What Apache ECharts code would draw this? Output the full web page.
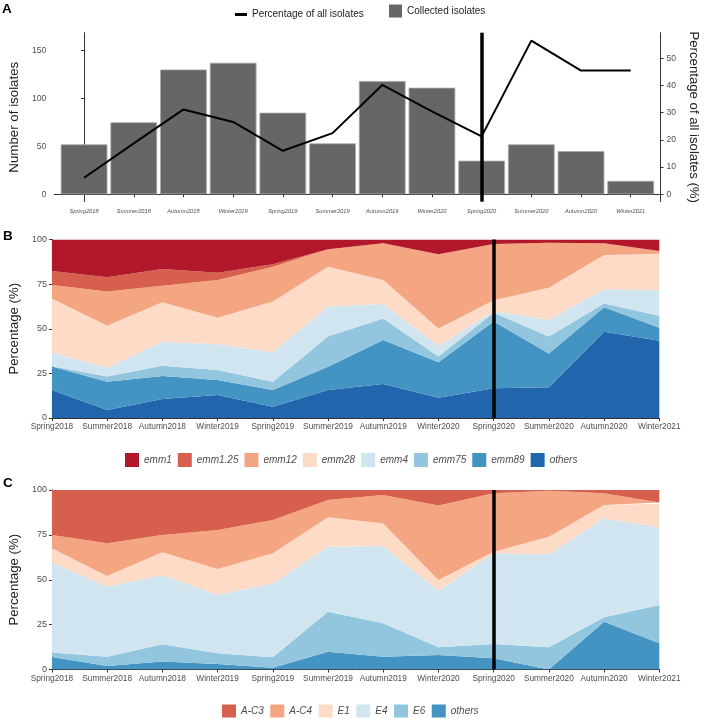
<!DOCTYPE html>
<html><head><meta charset="utf-8">
<script src="https://cdn.jsdelivr.net/npm/echarts@6/dist/echarts.min.js"></script>
<style>html,body{margin:0;padding:0;background:#fff}#c{width:708px;height:719px}</style>
</head><body><div id="c"></div>
<script>
// ---------- data ----------
const seasons = ['Spring2018','Summer2018','Autumn2018','Winter2019','Spring2019','Summer2019','Autumn2019','Winter2020','Spring2020','Summer2020','Autumn2020','Winter2021'];
const collectedIsolates = [52, 75, 130, 137, 85, 53, 118, 111, 35, 52, 45, 14];
const percentageOfAllIsolates = [6.1, 18.7, 31.2, 26.6, 16.0, 22.5, 40.2, 30.5, 21.3, 56.5, 45.5, 45.5];
const countTicks = [0, 50, 100, 150];
const pctTicks = [0, 10, 20, 30, 40, 50];
const splitSeason = 'Spring2020';

// panel B (emm types, % per season)
const emmNames = ['emm1','emm1.25','emm12','emm28','emm4','emm75','emm89','others'];
const emm1    = [17.6, 21.2, 16.5, 18.6, 13.9, 5.5, 2.1, 8.3, 2.5, 1.8, 2.1, 6.5];
const emm1_25 = [7.9, 8.0, 9.4, 4.1, 1.3, 0, 0, 0, 0, 0, 0, 0];
const emm12   = [7.5, 19.1, 9.3, 21.1, 19.6, 9.7, 20.6, 41.5, 31.5, 25.2, 6.6, 1.5];
const emm28   = [30.4, 23.5, 22.1, 14.9, 28.4, 22.4, 13.4, 9.9, 6.0, 18.1, 19.2, 20.3];
const emm4    = [7.6, 5.0, 13.4, 14.4, 16.5, 16.8, 8.1, 5.9, 1.0, 9.3, 7.9, 14.4];
const emm75   = [0.2, 2.9, 5.8, 5.6, 4.6, 16.9, 12.1, 3.2, 5.0, 9.4, 2.2, 6.7];
const emm89   = [13.1, 15.8, 12.9, 8.4, 9.4, 13.0, 24.7, 19.8, 37.4, 19.0, 13.7, 7.3];
const emmOthers = [15.7, 4.5, 10.6, 12.9, 6.3, 15.7, 19.0, 11.4, 16.6, 17.2, 48.3, 43.3];

// panel C (clusters, % per season)
const clusterNames = ['A-C3','A-C4','E1','E4','E6','others'];
const AC3 = [25.1, 29.7, 25.1, 22.3, 16.7, 5.6, 2.8, 8.7, 1.8, 0.4, 1.8, 7.1];
const AC4 = [7.4, 18.2, 9.6, 21.7, 18.6, 9.6, 15.8, 41.4, 32.6, 25.6, 6.6, 0.6];
const E1  = [7.8, 6.0, 12.7, 14.5, 16.7, 16.4, 12.6, 6.0, 0.9, 9.8, 7.4, 13.2];
const E4  = [50.2, 39.0, 38.6, 32.5, 41.2, 36.2, 43.1, 31.5, 50.5, 51.8, 55.1, 43.3];
const E6  = [2.5, 5.1, 9.6, 5.9, 5.8, 22.3, 18.6, 4.3, 8.0, 12.4, 2.5, 21.3];
const clusterOthers = [7.0, 2.0, 4.4, 3.1, 1.0, 9.9, 7.1, 8.1, 6.2, 0, 26.6, 14.6];
const stackTicks = [0, 25, 50, 75, 100];

// ---------- styling ----------
const SANS = "'Liberation Sans',Arial,sans-serif";
const TXT = '#4d4d4d';
const AX = '#333';
const colB = {'emm1':'#b2182b','emm1.25':'#d6604d','emm12':'#f4a582','emm28':'#fddbc7','emm4':'#d1e5f0','emm75':'#92c5de','emm89':'#4393c3','others':'#2166ac'};
const colC = {'A-C3':'#d6604d','A-C4':'#f4a582','E1':'#fddbc7','E4':'#d1e5f0','E6':'#92c5de','others':'#4393c3'};

const gA = {left:40.7, top:32.7, width:632.9, height:169};
const gB = {left:40, top:239.5, width:619.3, height:178.5};
const gC = {left:40, top:490, width:619.3, height:179.5};
const countRange = [-7.7, 168.3];
const secFactor = 2.833;
const xExpand = 0.6;

const axisLineStyle = {show:true, lineStyle:{color:AX, width:1}};
const tickStyle = {show:true, length:3, lineStyle:{color:AX, width:1}};

const seasonIdx = seasons.map((s,i)=>i);
const barWidthPx = 0.9 * gA.width / (seasons.length - 1 + 2*xExpand);

const vline = (xv) => ({
  silent:true, symbol:['none','none'], label:{show:false},
  lineStyle:{color:'#000', width:3.5, type:'solid'},
  data:[{xAxis:xv}], animation:false
});

function areaSeries(names, arrays, colors, xi, yi, prefix){
  return names.map((n,k)=>({
    name: prefix + n, type:'line', stack:'s'+xi, xAxisIndex:xi, yAxisIndex:yi,
    data: arrays[k], symbol:'none', showSymbol:false,
    lineStyle:{width:0}, areaStyle:{color:colors[n], opacity:1},
    itemStyle:{color:colors[n]}, z:2
  }));
}
// bottom-to-top stacking order
const bNames = ['others','emm89','emm75','emm4','emm28','emm12','emm1.25','emm1'];
const bArrays = [emmOthers, emm89, emm75, emm4, emm28, emm12, emm1_25, emm1];
const cNames = ['others','E6','E4','E1','A-C4','A-C3'];
const cArrays = [clusterOthers, E6, E4, E1, AC4, AC3];

const seriesB = areaSeries(bNames, bArrays, colB, 1, 2, '');
seriesB[seriesB.length-1].markLine = vline(splitSeason);
const seriesC = areaSeries(cNames, cArrays, colC, 2, 3, 'C:');
seriesC[seriesC.length-1].markLine = vline(splitSeason);

const catAxis = (gi, margin) => ({
  type:'category', gridIndex:gi, data:seasons, boundaryGap:false,
  axisLine:axisLineStyle, axisTick:Object.assign({}, tickStyle, {alignWithLabel:true}),
  axisLabel:{interval:0, margin:margin, fontFamily:SANS, fontSize:8.3, color:TXT},
  splitLine:{show:false}
});
const pctAxis = (gi, nameGap) => ({
  type:'value', gridIndex:gi, min:0, max:100, interval:25,
  axisLine:axisLineStyle, axisTick:tickStyle,
  axisLabel:{margin:5, fontFamily:SANS, fontSize:9, color:TXT},
  splitLine:{show:false},
  name:'Percentage (%)', nameLocation:'middle', nameGap:nameGap, nameRotate:90,
  nameTextStyle:{fontFamily:SANS, fontSize:13.2, color:'#222'}
});

const option = {
  animation:false,
  backgroundColor:'#fff',
  grid:[gA, gB, gC],
  xAxis:[
    {type:'value', gridIndex:0, min:-xExpand, max:seasons.length-1+xExpand,
     axisLine:axisLineStyle,
     axisTick:Object.assign({}, tickStyle, {customValues:seasonIdx}),
     axisLabel:{customValues:seasonIdx, formatter:(v)=>seasons[v], margin:7,
       fontFamily:SANS, fontStyle:'italic', fontSize:5.7, color:TXT},
     splitLine:{show:false}},
    catAxis(1, 5),
    catAxis(2, 5)
  ],
  yAxis:[
    {type:'value', gridIndex:0, min:countRange[0], max:countRange[1],
     axisLine:axisLineStyle,
     axisTick:Object.assign({}, tickStyle, {customValues:countTicks}),
     axisLabel:{customValues:countTicks, margin:8, fontFamily:SANS, fontSize:8.6, color:TXT},
     splitLine:{show:false},
     name:'Number of isolates', nameLocation:'middle', nameGap:26, nameRotate:90,
     nameTextStyle:{fontFamily:SANS, fontSize:13.3, color:'#222'}},
    {type:'value', gridIndex:0, position:'right',
     min:countRange[0]/secFactor, max:countRange[1]/secFactor,
     axisLine:axisLineStyle,
     axisTick:Object.assign({}, tickStyle, {customValues:pctTicks}),
     axisLabel:{customValues:pctTicks, margin:6, fontFamily:SANS, fontSize:8.6, color:TXT},
     splitLine:{show:false},
     name:'Percentage of all isolates (%)', nameLocation:'middle', nameGap:22, nameRotate:-90,
     nameTextStyle:{fontFamily:SANS, fontSize:13.2, color:'#222'}},
    pctAxis(1, 26),
    pctAxis(2, 26)
  ],
  legend:[
    {data:['Percentage of all isolates'], left:235, top:9.5, icon:'rect', padding:0,
     itemWidth:12, itemHeight:3, itemTextGap:7,
     textStyle:{fontFamily:SANS, fontSize:10, color:'#222'}, selectedMode:false},
    {data:[{name:'Collected isolates', itemStyle:{borderWidth:0}}], left:389, top:4.5, icon:'rect', padding:0,
     itemWidth:13, itemHeight:13, itemTextGap:7,
     itemStyle:{borderWidth:0},
     textStyle:{fontFamily:SANS, fontSize:10, color:'#222'}, selectedMode:false},
    {data:emmNames, left:125, top:453, icon:'rect', itemWidth:14, itemHeight:14, padding:0,
     itemGap:6, itemTextGap:5,
     textStyle:{fontFamily:SANS, fontStyle:'italic', fontSize:10, color:TXT}, selectedMode:false},
    {data:clusterNames.map(n=>'C:'+n), left:222, top:704.5, icon:'rect', itemWidth:14, itemHeight:13, padding:0,
     itemGap:6.5, itemTextGap:6, formatter:(n)=>n.replace(/^C:/,''),
     textStyle:{fontFamily:SANS, fontStyle:'italic', fontSize:10, color:TXT}, selectedMode:false}
  ],
  graphic:[
    {type:'text', left:2, top:2, style:{text:'A', font:'bold 13.5px '+SANS, fill:'#000'}},
    {type:'text', left:3, top:229.5, style:{text:'B', font:'bold 13.5px '+SANS, fill:'#000'}},
    {type:'text', left:3, top:476.5, style:{text:'C', font:'bold 13.5px '+SANS, fill:'#000'}}
  ],
  series:[
    {name:'Collected isolates', type:'bar', xAxisIndex:0, yAxisIndex:0,
     data:collectedIsolates.map((v,i)=>[i,v]), barWidth:barWidthPx,
     itemStyle:{color:'#666666', borderColor:'#a8a8a8', borderWidth:0.8}, z:2},
    {name:'Percentage of all isolates', type:'line', xAxisIndex:0, yAxisIndex:1,
     data:percentageOfAllIsolates.map((v,i)=>[i,v]), symbol:'none', showSymbol:false,
     lineStyle:{color:'#000', width:2}, itemStyle:{color:'#000'}, z:3,
     markLine:vline(seasons.indexOf(splitSeason))},
    ...seriesB,
    ...seriesC
  ]
};
const chart = echarts.init(document.getElementById('c'), null, {renderer:'canvas'});
chart.setOption(option);
</script>
</body></html>
